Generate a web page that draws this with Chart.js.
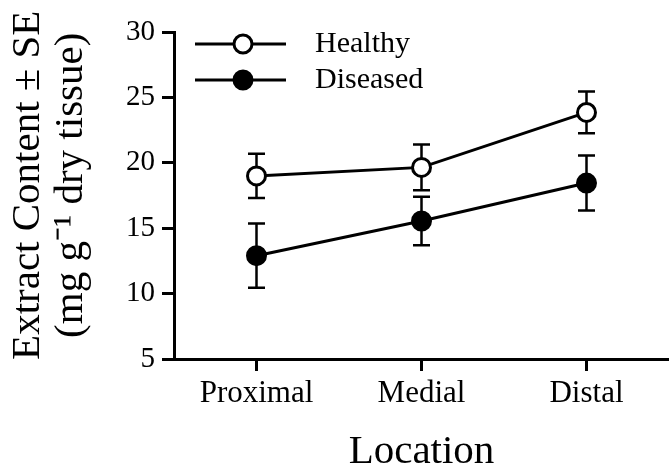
<!DOCTYPE html>
<html><head><meta charset="utf-8">
<script src="https://cdn.jsdelivr.net/npm/chart.js@4"></script>
<style>html,body{margin:0;padding:0;background:#fff}</style>
</head><body>
<canvas id="c" width="669" height="473"></canvas>
<script>
const categories = ['Proximal', 'Medial', 'Distal'];
const healthy = [19.0, 19.65, 23.85];
const healthySE = [1.7, 1.75, 1.6];
const diseased = [12.9, 15.55, 18.45];
const diseasedSE = [2.45, 1.85, 2.1];
const yTicks = [5, 10, 15, 20, 25, 30];
const seriesNames = ['Healthy', 'Diseased'];
const yTitle = ['  Extract Content \u00B1 SE', '  (mg g\u207B\u00B9 dry tissue)'];
const xTitle = 'Location';
const FONT = "'Liberation Serif', 'Times New Roman', serif";

const errorBars = {
  id: 'errorBars',
  beforeDatasetsDraw(chart) {
    const ctx = chart.ctx, y = chart.scales.y;
    ctx.save();
    ctx.strokeStyle = '#000';
    ctx.lineWidth = 2.5;
    chart.data.datasets.forEach((ds, i) => {
      const meta = chart.getDatasetMeta(i);
      meta.data.forEach((pt, j) => {
        const v = ds.data[j], e = ds.se[j];
        const x = pt.x, yt = y.getPixelForValue(v + e), yb = y.getPixelForValue(v - e);
        ctx.beginPath();
        ctx.moveTo(x, yt); ctx.lineTo(x, yb);
        ctx.moveTo(x - 8.5, yt); ctx.lineTo(x + 8.5, yt);
        ctx.moveTo(x - 8.5, yb); ctx.lineTo(x + 8.5, yb);
        ctx.stroke();
      });
    });
    ctx.restore();
  }
};

const legendBox = {
  id: 'legendBox',
  afterDraw(chart) {
    const ctx = chart.ctx, a = chart.chartArea;
    ctx.save();
    chart.data.datasets.forEach((ds, i) => {
      const yy = a.top + 12 + i * 36;
      ctx.strokeStyle = '#000';
      ctx.lineWidth = 3;
      ctx.beginPath(); ctx.moveTo(a.left + 21, yy); ctx.lineTo(a.left + 112, yy); ctx.stroke();
      ctx.beginPath(); ctx.arc(a.left + 69, yy, 9, 0, Math.PI * 2);
      ctx.fillStyle = ds.pointBackgroundColor; ctx.fill(); ctx.stroke();
      ctx.fillStyle = '#000';
      ctx.font = '30px ' + FONT;
      ctx.textBaseline = 'middle';
      ctx.textAlign = 'left';
      ctx.fillText(ds.label, a.left + 141, yy);
    });
    ctx.restore();
  }
};

const gridOpts = { display: true, drawOnChartArea: false, drawTicks: true, tickLength: 12, tickWidth: 3, tickColor: '#000', offset: false };
const borderOpts = { display: true, color: '#000', width: 3 };

new Chart(document.getElementById('c'), {
  type: 'line',
  data: {
    labels: categories,
    datasets: [
      { label: seriesNames[0], data: healthy, se: healthySE, borderColor: '#000', borderWidth: 3,
        pointRadius: 9, pointBorderWidth: 3, pointBackgroundColor: '#fff', pointBorderColor: '#000', tension: 0, fill: false },
      { label: seriesNames[1], data: diseased, se: diseasedSE, borderColor: '#000', borderWidth: 3,
        pointRadius: 9, pointBorderWidth: 3, pointBackgroundColor: '#000', pointBorderColor: '#000', tension: 0, fill: false }
    ]
  },
  options: {
    responsive: false,
    animation: false,
    layout: { autoPadding: false, padding: { top: 32, right: 0, left: 0, bottom: 0 } },
    plugins: { legend: { display: false }, tooltip: { enabled: false } },
    scales: {
      x: {
        offset: true,
        grid: gridOpts,
        border: borderOpts,
        ticks: { color: '#000', font: { family: FONT, size: 31 }, padding: 4 },
        title: { display: true, text: xTitle, color: '#000', font: { family: FONT, size: 41, lineHeight: 1 }, padding: { top: 0, bottom: 0 } },
        afterFit(s) { s.height = 114; s.paddingLeft = 0; s.paddingRight = 0; }
      },
      y: {
        min: 5, max: 30,
        afterBuildTicks(s) { s.ticks = yTicks.map(v => ({ value: v })); },
        grid: gridOpts,
        border: borderOpts,
        ticks: { color: '#000', font: { family: FONT, size: 29 }, padding: 7 },
        title: { display: true, text: yTitle, color: '#000', font: { family: FONT, size: 41, lineHeight: 1.05 }, padding: { top: 6.5, bottom: 0 } },
        afterFit(s) { s.width = 174; }
      }
    }
  },
  plugins: [errorBars, legendBox]
});
</script>
</body></html>
